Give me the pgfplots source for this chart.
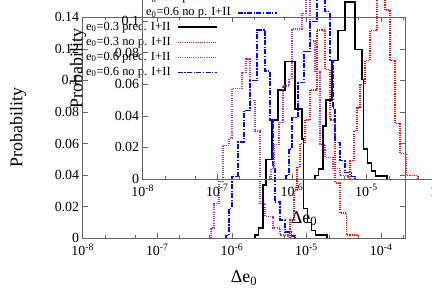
\documentclass[border=0pt]{standalone}
\usepackage{pgfplots}
\pgfplotsset{compat=1.18}
\usepackage{pgfplotstable}
\usepackage{fontspec}
\setmainfont{Liberation Serif}
\definecolor{mypurple}{RGB}{176,48,192}
\definecolor{axgray}{RGB}{100,100,100}

\pgfplotstableread{
x y
5.248e-7 0
5.248e-7 0.0065
5.754e-7 0.022
6.71e-7 0.036
7.60e-7 0.059
9.14e-7 0.0635
1.002e-6 0.095
1.365e-6 0.105
1.545e-6 0.1135
1.750e-6 0.0875
2.042e-6 0.068
2.382e-6 0.022
2.780e-6 0.0137
3.556e-6 0.0065
4.416e-6 0.002
5.649e-6 0
}\purpletab

\pgfplotstableread{
x y
8.337e-7 0
8.337e-7 0.002
9.14e-7 0.019
1.002e-6 0.039
1.208e-6 0.061
1.452e-6 0.081
1.750e-6 0.100
2.173e-6 0.132
2.780e-6 0.106
3.243e-6 0.075
3.556e-6 0.045
3.784e-6 0.023
4.416e-6 0.0116
5.152e-6 0.004
6.339e-6 0.0015
7.015e-6 0
}\bluetab

\pgfplotstableread{
x y
2.042e-6 0
2.042e-6 0.0021
2.275e-6 0.0065
2.588e-6 0.0337
2.871e-6 0.05
3.451e-6 0.075
4.150e-6 0.094
5.152e-6 0.112
7.015e-6 0.082
8.710e-6 0.063
9.12e-6 0.019
1.031e-5 0.010
1.167e-5 0.005
1.321e-5 0.002
1.884e-5 0
}\blacktab

\pgfplotstableread{
x y
6.012e-6 0
6.012e-6 0.0116
6.808e-6 0.0306
7.464e-6 0.045
8.185e-6 0.06
9.550e-6 0.075
1.114e-5 0.094
1.384e-5 0.132
1.770e-5 0.107
2.065e-5 0.075
2.410e-5 0.035
2.812e-5 0.016
3.459e-5 0.002
4.898e-5 0
}\redtab

\newcommand{\lent}[1]{\makebox[91bp][l]{\fontsize{12.5}{14}\selectfont #1}}
\newcommand{\drawall}{%
  \addplot[black, line width=1.6bp, const plot] table {\blacktab};
  \addlegendentry{\lent{e\textsubscript{0}=0.3 prec. I+II}}
  \addplot[red, line width=1.3bp, dash pattern=on 1.1bp off 1.1bp, const plot] table {\redtab};
  \addlegendentry{\lent{e\textsubscript{0}=0.3 no p. I+II}}
  \addplot[mypurple, line width=1.3bp, dash pattern=on 1.1bp off 1.1bp, const plot] table {\purpletab};
  \addlegendentry{\lent{e\textsubscript{0}=0.6 prec. I+II}}
  \addplot[blue, line width=1.2bp, dash pattern=on 5bp off 1.5bp on 1.2bp off 1.5bp, const plot] table {\bluetab};
  \addlegendentry{\lent{e\textsubscript{0}=0.6 no p. I+II}}
}

\pgfplotsset{
  every axis/.append style={
    scale only axis,
    width=322.6bp, height=221bp,
    xmin=1e-8, xmax=2.11e-4,
    ymin=0, ymax=0.14,
    axis line style={axgray, line width=0.8bp},
    tick style={axgray, line width=0.6bp},
    tick align=inside,
    major tick length=5bp, minor tick length=3bp,
    xtick={1e-8,1e-7,1e-6,1e-5,1e-4},
    xticklabels={10\textsuperscript{-8},10\textsuperscript{-7},10\textsuperscript{-6},10\textsuperscript{-5},10\textsuperscript{-4}},
    minor xtick={2e-8,5e-8,2e-7,5e-7,2e-6,5e-6,2e-5,5e-5,2e-4},
    ytick={0,0.02,0.04,0.06,0.08,0.1,0.12,0.14},
    yticklabels={0,0.02,0.04,0.06,0.08,0.1,0.12,0.14},
    ticklabel style={font=\fontsize{14}{16}\selectfont},
    xticklabel style={yshift=-2bp},
    xlabel={\fontsize{18}{20}\selectfont Δe\textsubscript{0}},
    ylabel={\fontsize{18}{20}\selectfont Probability},
    xlabel style={at={(axis description cs:0.5,-0.18)}, anchor=center},
    ylabel style={at={(axis description cs:-0.2,0.5)}, anchor=center},
    legend style={draw=none, fill=none, at={(axis description cs:0.0102,0.99)}, anchor=north west,
      inner sep=0pt, row sep=0pt,
      nodes={inner xsep=0pt, inner ysep=1.5bp, text height=9bp, text depth=3bp}},
    legend cell align=left,
    legend plot pos=right,
    legend image code/.code={\draw[##1] (0bp,0bp) -- (39bp,0bp);},
  },
}

\begin{document}
\begin{tikzpicture}
\useasboundingbox (0bp,0bp) rectangle (432bp,302bp);
\begin{scope}
\clip (0bp,0bp) rectangle (432bp,302bp);
\begin{semilogxaxis}[at={(82.7bp,63.7bp)}, anchor=south west]
\drawall
\end{semilogxaxis}
\begin{semilogxaxis}[at={(142.7bp,123bp)}, anchor=south west]
\drawall
\end{semilogxaxis}
\end{scope}
\end{tikzpicture}
\end{document}
